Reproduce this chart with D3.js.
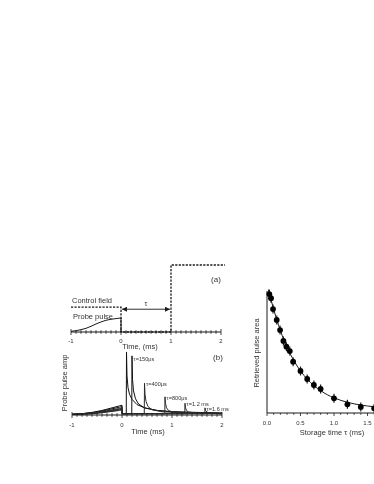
<!DOCTYPE html>
<html><head><meta charset="utf-8">
<script src="https://cdn.jsdelivr.net/npm/d3@7"></script>
<style>body{margin:0;background:#fff}svg{display:block;font-family:"Liberation Sans",Arial,sans-serif;will-change:transform;-webkit-font-smoothing:antialiased}</style>
</head><body>
<script>
// ---------- DATA ----------
const timeTicks = [-1, 0, 1, 2];
const controlT = [-1, 0, 0, 1, 1, 2.08];
const controlV = [0.37, 0.37, 0, 0, 1, 1];
const probeT = [-1, -0.9, -0.8, -0.7, -0.6, -0.5, -0.4, -0.3, -0.2, -0.1, 0, 0];
const probeV = [0.01, 0.02, 0.035, 0.055, 0.085, 0.12, 0.15, 0.175, 0.19, 0.2, 0.21, 0];
const tauArrow = [0, 1, 0.34];

const trace50 = [[-1,0.01],[-0.8,0.02],[-0.6,0.04],[-0.4,0.07],[-0.2,0.11],[-0.05,0.14],[0,0.15],[0.005,0.02],[0.085,0.02],[0.09,0.97],[0.1,0.6],[0.12,0.42],[0.15,0.32],[0.2,0.24],[0.3,0.16],[0.45,0.11],[0.7,0.07],[1.0,0.05],[1.5,0.04],[2,0.03]];
const trace150 = [[-1,0.01],[-0.8,0.02],[-0.6,0.035],[-0.4,0.06],[-0.2,0.095],[-0.05,0.12],[0,0.13],[0.005,0.02],[0.195,0.02],[0.2,0.91],[0.21,0.55],[0.23,0.37],[0.27,0.25],[0.33,0.17],[0.45,0.11],[0.7,0.07],[1.0,0.05],[1.5,0.035],[2,0.03]];
const trace400 = [[-1,0.01],[-0.8,0.02],[-0.6,0.03],[-0.4,0.05],[-0.2,0.08],[-0.05,0.1],[0,0.11],[0.005,0.02],[0.445,0.02],[0.45,0.49],[0.46,0.32],[0.48,0.21],[0.52,0.13],[0.6,0.08],[0.8,0.05],[1.2,0.035],[2,0.025]];
const trace800 = [[-1,0.01],[-0.8,0.015],[-0.6,0.025],[-0.4,0.045],[-0.2,0.07],[-0.05,0.09],[0,0.1],[0.005,0.02],[0.855,0.02],[0.86,0.28],[0.87,0.18],[0.89,0.11],[0.93,0.07],[1.0,0.05],[1.3,0.03],[2,0.02]];
const trace1200 = [[-1,0.01],[-0.8,0.015],[-0.6,0.02],[-0.4,0.04],[-0.2,0.06],[-0.05,0.08],[0,0.09],[0.005,0.02],[1.255,0.02],[1.26,0.18],[1.27,0.11],[1.29,0.07],[1.33,0.045],[1.5,0.03],[2,0.02]];
const trace1600 = [[-1,0.01],[-0.8,0.015],[-0.6,0.02],[-0.4,0.035],[-0.2,0.055],[-0.05,0.07],[0,0.08],[0.005,0.02],[1.655,0.02],[1.66,0.11],[1.67,0.07],[1.7,0.045],[1.75,0.03],[2,0.02]];
const traces = [trace50, trace150, trace400, trace800, trace1200, trace1600];
const tauLabels = ["", "τ=150μs", "τ=400μs", "τ=800μs", "τ=1.2 ms", "τ=1.6 ms"];

const storageT = [0.035, 0.06, 0.09, 0.145, 0.195, 0.245, 0.29, 0.34, 0.39, 0.5, 0.6, 0.7, 0.8, 1.0, 1.2, 1.4, 1.6];
const pulseArea = [0.983, 0.948, 0.858, 0.767, 0.683, 0.592, 0.544, 0.508, 0.419, 0.342, 0.275, 0.225, 0.192, 0.114, 0.064, 0.042, 0.031];
const fitT = [0.02, 0.1, 0.2, 0.3, 0.4, 0.5, 0.6, 0.7, 0.8, 0.9, 1.0, 1.2, 1.4, 1.6, 1.8];
const fitV = [1.02, 0.855, 0.678, 0.539, 0.429, 0.342, 0.274, 0.22, 0.178, 0.144, 0.118, 0.081, 0.058, 0.044, 0.035];
const storageTicks = [0, 0.5, 1.0, 1.5];

// ---------- DRAW ----------
const W = 374, H = 484;
const svg = d3.select("body").append("svg").attr("width", W).attr("height", H);
const ink = "#1a1a1a", txt = "#333";

function timeAxis(g, x, y0, labelY, title, titleX, titleY) {
  g.append("line").attr("x1", x(-1)).attr("x2", x(2)).attr("y1", y0).attr("y2", y0).attr("stroke", ink).attr("stroke-width", 1.2);
  const minor = d3.range(-10, 21).map(d => d / 10);
  g.selectAll(null).data(minor).join("line")
    .attr("x1", d => x(d)).attr("x2", d => x(d))
    .attr("y1", d => Number.isInteger(d) ? y0 - 3 : y0 - 1.8)
    .attr("y2", d => Number.isInteger(d) ? y0 + 3 : y0 + 1.8)
    .attr("stroke", ink).attr("stroke-width", 0.8);
  g.selectAll(null).data(timeTicks).join("text")
    .attr("x", d => x(d)).attr("y", labelY).attr("text-anchor", "middle")
    .attr("font-size", 6).attr("fill", txt).text(d => d);
  g.append("text").attr("x", titleX).attr("y", titleY).attr("text-anchor", "middle")
    .attr("font-size", 7.5).attr("fill", txt).text(title);
}

// Panel (a)
const xa = d3.scaleLinear().domain([-1, 2]).range([71, 221]);
const ya = d3.scaleLinear().domain([0, 1]).range([332, 265]);
const ga = svg.append("g");
ga.append("path").attr("d", d3.line().x(d => xa(d[0])).y(d => ya(d[1]))(controlT.map((t, i) => [t, controlV[i]])))
  .attr("fill", "none").attr("stroke", ink).attr("stroke-width", 1.3).attr("stroke-dasharray", "2.2,1.3");
ga.append("path").attr("d", d3.line().curve(d3.curveMonotoneX).x(d => xa(d[0])).y(d => ya(d[1]))(probeT.slice(0, -1).map((t, i) => [t, probeV[i]])))
  .attr("fill", "none").attr("stroke", ink).attr("stroke-width", 1);
ga.append("line").attr("x1", xa(0)).attr("x2", xa(0)).attr("y1", ya(probeV[probeV.length - 2])).attr("y2", ya(0)).attr("stroke", ink).attr("stroke-width", 1);
timeAxis(ga, xa, 332, 343, "Time, (ms)", 140, 349);
// tau arrow
const defs = svg.append("defs");
defs.append("marker").attr("id", "ah").attr("viewBox", "0 0 10 10").attr("refX", 10).attr("refY", 5)
  .attr("markerWidth", 7).attr("markerHeight", 5).attr("orient", "auto-start-reverse").attr("markerUnits", "userSpaceOnUse")
  .append("path").attr("d", "M0,0L10,5L0,10z").attr("fill", ink);
ga.append("line").attr("x1", xa(tauArrow[0]) + 1).attr("x2", xa(tauArrow[1]) - 1).attr("y1", ya(tauArrow[2])).attr("y2", ya(tauArrow[2]))
  .attr("stroke", ink).attr("stroke-width", 0.9).attr("marker-start", "url(#ah)").attr("marker-end", "url(#ah)");
ga.append("text").attr("x", xa(0.5)).attr("y", ya(tauArrow[2]) - 3).attr("text-anchor", "middle").attr("font-size", 7).attr("fill", txt).text("τ");
ga.append("text").attr("x", 72).attr("y", 303).attr("font-size", 7.5).attr("fill", txt).text("Control field");
ga.append("text").attr("x", 73).attr("y", 319).attr("font-size", 7.5).attr("fill", txt).text("Probe pulse");
ga.append("text").attr("x", 216).attr("y", 282).attr("text-anchor", "middle").attr("font-size", 8).attr("fill", txt).text("(a)");

// Panel (b)
const xb = d3.scaleLinear().domain([-1, 2]).range([72, 222]);
const yb = d3.scaleLinear().domain([0, 1]).range([415, 350]);
const gb = svg.append("g");
const lineB = d3.line().x(d => xb(d[0])).y(d => yb(d[1]));
gb.selectAll(null).data(traces).join("path").attr("d", d => lineB(d))
  .attr("fill", "none").attr("stroke", (d, i) => i < 2 ? "#111" : "#2a2a2a").attr("stroke-width", 1);
timeAxis(gb, xb, 415, 427, "Time (ms)", 148, 434);
const peakT = traces.map(tr => tr.reduce((a, b) => b[1] > a[1] ? b : a));
gb.selectAll(null).data(peakT.slice(1)).join("text")
  .attr("x", d => xb(d[0]) + 1.5).attr("y", (d, i) => yb(d[1]) + (i === 0 ? 5 : 3))
  .attr("font-size", 5.6).attr("fill", txt).text((d, i) => tauLabels[i + 1]);
gb.append("text").attr("transform", "translate(67,383) rotate(-90)").attr("text-anchor", "middle")
  .attr("font-size", 7.5).attr("fill", txt).text("Probe pulse amp");
gb.append("text").attr("x", 218).attr("y", 360).attr("text-anchor", "middle").attr("font-size", 8).attr("fill", txt).text("(b)");

// Panel (c)
const xc = d3.scaleLinear().domain([0, 1.6]).range([267, 374.2]);
const yc = d3.scaleLinear().domain([0, 1]).range([412, 292]);
const gc = svg.append("g");
gc.append("line").attr("x1", xc(0)).attr("x2", xc(0)).attr("y1", 291).attr("y2", 413).attr("stroke", ink).attr("stroke-width", 1);
gc.append("line").attr("x1", xc(0)).attr("x2", W).attr("y1", 413).attr("y2", 413).attr("stroke", ink).attr("stroke-width", 1);
gc.selectAll(null).data(d3.range(0, 17).map(d => d / 10)).join("line")
  .attr("x1", d => xc(d)).attr("x2", d => xc(d)).attr("y1", 413)
  .attr("y2", (d, i) => i % 5 === 0 ? 416 : 414.8).attr("stroke", ink).attr("stroke-width", 0.8);
gc.selectAll(null).data(storageTicks).join("text").attr("x", d => xc(d)).attr("y", 425)
  .attr("text-anchor", "middle").attr("font-size", 6).attr("fill", txt).text(d => d.toFixed(1));
gc.append("text").attr("x", 332).attr("y", 435).attr("text-anchor", "middle").attr("font-size", 7.5).attr("fill", txt).text("Storage time τ (ms)");
gc.append("text").attr("transform", "translate(259,353) rotate(-90)").attr("text-anchor", "middle")
  .attr("font-size", 7.5).attr("fill", txt).text("Retrieved pulse area");
gc.append("path").attr("d", d3.line().curve(d3.curveMonotoneX).x(d => xc(d[0])).y(d => yc(d[1]))(fitT.map((t, i) => [t, fitV[i]])))
  .attr("fill", "none").attr("stroke", ink).attr("stroke-width", 1);
const pts = storageT.map((t, i) => [t, pulseArea[i]]);
gc.selectAll(null).data(pts).join("line").attr("x1", d => xc(d[0])).attr("x2", d => xc(d[0]))
  .attr("y1", d => yc(d[1]) - 4.5).attr("y2", d => yc(d[1]) + 4.5).attr("stroke", ink).attr("stroke-width", 1.2);
gc.selectAll(null).data(pts).join("circle").attr("cx", d => xc(d[0])).attr("cy", d => yc(d[1])).attr("r", 2.9).attr("fill", "#000");
</script>
</body></html>
